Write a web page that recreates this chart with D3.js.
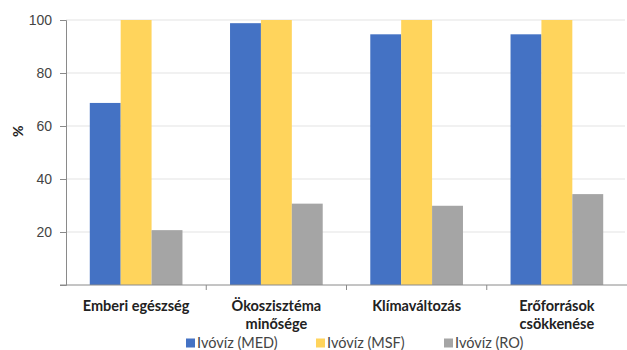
<!DOCTYPE html>
<html>
<head>
<meta charset="utf-8">
<script src="https://cdn.jsdelivr.net/npm/d3@7"></script>
<style>
  html, body { margin: 0; padding: 0; background: #fff; }
  svg { display: block; font-family: Lato, "Open Sans", sans-serif; }
</style>
</head>
<body>
<svg id="chart" width="627" height="350"></svg>
<script>
// Impact categories (two-line labels where wrapped)
const categories = ["Emberi egészség", "Ökoszisztéma minősége", "Klímaváltozás", "Erőforrások csökkenése"];
const categoryLines = [["Emberi egészség"], ["Ökoszisztéma", "minősége"], ["Klímaváltozás"], ["Erőforrások", "csökkenése"]];
const seriesNames = ["Ivóvíz (MED)", "Ivóvíz (MSF)", "Ivóvíz (RO)"];
const medValues = [68.7, 98.8, 94.6, 94.6];
const msfValues = [100, 100, 100, 100];
const roValues = [20.7, 30.7, 29.9, 34.3];
const yTicks = [20, 40, 60, 80, 100];
const colors = ["#4472C4", "#FFD45C", "#A5A5A5"];

const series = [medValues, msfValues, roValues];
const svg = d3.select("#chart");
const margin = { left: 66, right: 0, top: 20, bottom: 65 };
const width = 627, height = 350;

const x = d3.scaleBand().domain(categories).range([margin.left, width - margin.right]).paddingInner(0).paddingOuter(0);
const xs = d3.scaleBand().domain(seriesNames).range([0, x.bandwidth()]).paddingOuter(0.77).paddingInner(0);
const y = d3.scaleLinear().domain([0, 100]).range([height - margin.bottom, margin.top]);

// gridlines
svg.append("g").selectAll("line").data(yTicks).join("line")
  .attr("x1", margin.left).attr("x2", width - 2)
  .attr("y1", d => y(d)).attr("y2", d => y(d))
  .attr("stroke", "#e3e3e3").attr("stroke-width", 1);

// bars
const groups = svg.append("g").selectAll("g").data(categories).join("g")
  .attr("transform", d => `translate(${x(d)},0)`);
groups.selectAll("rect")
  .data((c, i) => seriesNames.map((s, j) => ({ s, j, v: series[j][i] })))
  .join("rect")
  .attr("x", d => xs(d.s))
  .attr("width", xs.bandwidth())
  .attr("y", d => y(d.v))
  .attr("height", d => y(0) - y(d.v))
  .attr("fill", d => colors[d.j]);

// y axis
const yAxis = svg.append("g").attr("transform", `translate(${margin.left},0)`)
  .call(d3.axisLeft(y).tickValues([0, ...yTicks]).tickSize(6).tickPadding(8).tickFormat(d => d === 0 ? "" : d));
yAxis.select(".domain").attr("stroke", "#8a8a8a");
yAxis.selectAll(".tick line").attr("stroke", "#8a8a8a");
yAxis.selectAll("text").attr("fill", "#444").style("font-size", "14px");

// x axis
const xAxis = svg.append("g").attr("transform", `translate(0,${y(0)})`);
xAxis.append("line").attr("x1", margin.left - 6).attr("x2", width).attr("stroke", "#8a8a8a");
xAxis.selectAll("line.tk").data(categories.slice(1)).join("line").attr("class", "tk")
  .attr("x1", d => x(d)).attr("x2", d => x(d)).attr("y1", 0).attr("y2", 5).attr("stroke", "#8a8a8a");

// category labels
svg.append("g").selectAll("text").data(categories).join("text")
  .attr("x", d => x(d) + x.bandwidth() / 2)
  .attr("y", y(0) + 26)
  .attr("text-anchor", "middle")
  .attr("fill", "#222")
  .style("font-size", "14.5px").style("font-weight", "bold")
  .each(function(d, i) {
    d3.select(this).selectAll("tspan").data(categoryLines[i]).join("tspan")
      .attr("x", x(d) + x.bandwidth() / 2)
      .attr("dy", (t, k) => k === 0 ? 0 : 18)
      .text(t => t);
  });

// y title
svg.append("text").attr("transform", `translate(23,${y(58)}) rotate(-90)`)
  .attr("text-anchor", "middle").attr("fill", "#222")
  .style("font-size", "14px").style("font-weight", "bold").text("%");

// legend
const legendX = [186, 316, 444];
const legend = svg.append("g").selectAll("g").data(seriesNames).join("g")
  .attr("transform", (d, i) => `translate(${legendX[i]},343)`);
legend.append("rect").attr("x", 0).attr("y", -4.5).attr("width", 9).attr("height", 9)
  .attr("fill", (d, i) => colors[i]);
legend.append("text").attr("x", 11).attr("y", 0).attr("dy", "0.35em")
  .attr("fill", "#444").style("font-size", "14.5px").text(d => d);
</script>
</body>
</html>
